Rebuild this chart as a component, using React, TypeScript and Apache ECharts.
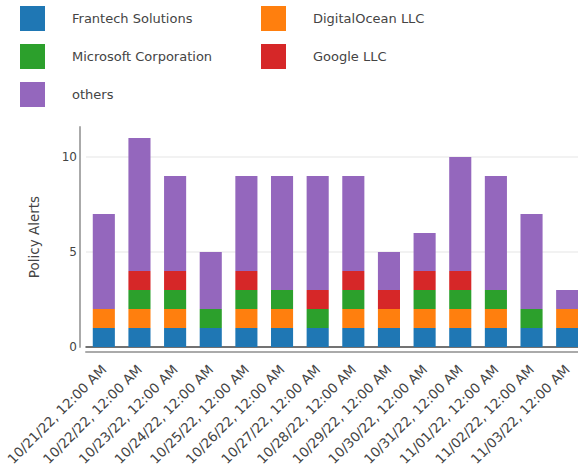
import React, { useEffect, useRef } from "react";
import * as echarts from "echarts";

const categories = [
  "10/21/22, 12:00 AM",
  "10/22/22, 12:00 AM",
  "10/23/22, 12:00 AM",
  "10/24/22, 12:00 AM",
  "10/25/22, 12:00 AM",
  "10/26/22, 12:00 AM",
  "10/27/22, 12:00 AM",
  "10/28/22, 12:00 AM",
  "10/29/22, 12:00 AM",
  "10/30/22, 12:00 AM",
  "10/31/22, 12:00 AM",
  "11/01/22, 12:00 AM",
  "11/02/22, 12:00 AM",
  "11/03/22, 12:00 AM",
];

const frantech = [1, 1, 1, 1, 1, 1, 1, 1, 1, 1, 1, 1, 1, 1];
const digitalOcean = [1, 1, 1, 0, 1, 1, 0, 1, 1, 1, 1, 1, 0, 1];
const microsoft = [0, 1, 1, 1, 1, 1, 1, 1, 0, 1, 1, 1, 1, 0];
const google = [0, 1, 1, 0, 1, 0, 1, 1, 1, 1, 1, 0, 0, 0];
const others = [5, 7, 5, 3, 5, 6, 6, 5, 2, 2, 6, 6, 5, 1];

const seriesNames = [
  "Frantech Solutions",
  "DigitalOcean LLC",
  "Microsoft Corporation",
  "Google LLC",
  "others",
];
const seriesData = [frantech, digitalOcean, microsoft, google, others];
const colors = ["#1f77b4", "#ff7f0e", "#2ca02c", "#d62728", "#9467bd"];

const FONT = "DejaVu Sans";

export default function App() {
  const ref = useRef<HTMLDivElement>(null);

  useEffect(() => {
    if (!ref.current) return;
    const chart = echarts.init(ref.current, undefined, { renderer: "svg" });
    const legendCommon = {
      orient: "vertical" as const,
      top: 6,
      padding: 0,
      itemWidth: 25,
      itemHeight: 25,
      itemGap: 13,
      icon: "rect",
      selectedMode: false,
      textStyle: {
        fontFamily: FONT,
        fontSize: 13,
        color: "#444",
        padding: [0, 0, 0, 22],
      },
    };
    chart.setOption({
      animation: false,
      color: colors,
      textStyle: { fontFamily: FONT },
      legend: [
        {
          ...legendCommon,
          left: 20,
          data: [seriesNames[0], seriesNames[2], seriesNames[4]],
        },
        {
          ...legendCommon,
          left: 261,
          data: [seriesNames[1], seriesNames[3]],
        },
      ],
      grid: { left: 86, right: 0, top: 127, bottom: 122 },
      xAxis: [
        {
          type: "category",
          data: categories,
          axisLine: { show: true, lineStyle: { color: "#444", width: 1.5 } },
          axisTick: { show: false },
          axisLabel: {
            rotate: 45,
            interval: 0,
            fontFamily: FONT,
            fontSize: 13.5,
            color: "#444",
            margin: 20,
          },
        },
        {
          type: "category",
          data: categories,
          position: "bottom",
          offset: 5,
          axisLine: { show: true, lineStyle: { color: "#aaa", width: 2 } },
          axisTick: { show: false },
          axisLabel: { show: false },
        },
      ],
      yAxis: {
        type: "value",
        min: 0,
        max: 11.58,
        interval: 5,
        offset: 6,
        name: "Policy Alerts",
        nameLocation: "middle",
        nameGap: 39,
        nameTextStyle: { fontFamily: FONT, fontSize: 13.5, color: "#444" },
        axisLine: { show: true, lineStyle: { color: "#aaa", width: 2 } },
        axisTick: { show: false },
        axisLabel: {
          fontFamily: FONT,
          fontSize: 12,
          color: "#444",
          margin: 3,
          formatter: (v: number) => (v % 5 === 0 ? String(v) : ""),
        },
        splitLine: {
          show: true,
          showMinLine: false,
          showMaxLine: false,
          lineStyle: { color: "#eee", width: 1.5 },
        },
      },
      series: seriesNames.map((name, i) => ({
        name,
        type: "bar",
        stack: "total",
        xAxisIndex: 0,
        barCategoryGap: "38%",
        data: seriesData[i],
        itemStyle: { color: colors[i] },
      })),
    });
    return () => chart.dispose();
  }, []);

  return (
    <div
      ref={ref}
      style={{
        position: "fixed",
        left: 0,
        top: 0,
        width: 585,
        height: 469,
        background: "#fff",
      }}
    />
  );
}
